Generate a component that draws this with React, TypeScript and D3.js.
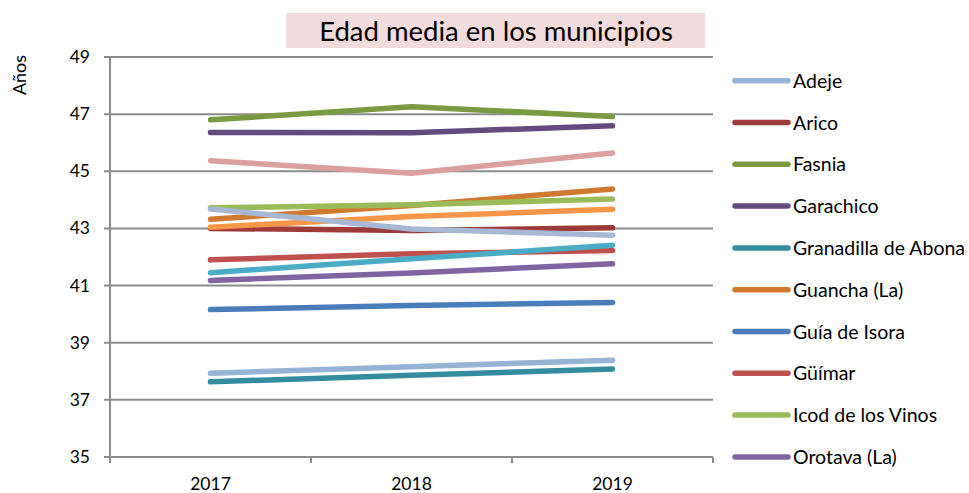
import React from "react";
import * as d3 from "d3";

const years = ["2017", "2018", "2019"];
const yTicks = [35, 37, 39, 41, 43, 45, 47, 49];

const names = [
  "Adeje", "Arico", "Fasnia", "Garachico", "Granadilla de Abona", "Guancha (La)",
  "Guía de Isora", "Güímar", "Icod de los Vinos", "Orotava (La)",
  "Puerto de la Cruz", "Realejos (Los)", "San Juan de la Rambla", "Santiago del Teide",
];
const colors = [
  "#95b3d7", "#9c3b3a", "#7a9a42", "#634b80", "#348c9e", "#d07a30",
  "#4a7ebb", "#c0504d", "#9bbb59", "#8064a2",
  "#4bacc6", "#f79646", "#d9a09e", "#a6b8d6",
];
const values = [
  [37.93, 38.16, 38.39],
  [43.0, 42.93, 43.02],
  [46.8, 47.26, 46.92],
  [46.36, 46.35, 46.59],
  [37.63, 37.86, 38.08],
  [43.32, 43.8, 44.38],
  [40.16, 40.3, 40.41],
  [41.9, 42.11, 42.23],
  [43.72, 43.83, 44.03],
  [41.18, 41.44, 41.76],
  [41.45, 41.94, 42.41],
  [43.04, 43.42, 43.67],
  [45.37, 44.93, 45.64],
  [43.68, 42.98, 42.76],
];
const legendCount = 10;

const font = "Lato, 'Open Sans', sans-serif";

export default function App() {
  const W = 969, H = 493;
  const left = 110, right = 713, top = 57, bottom = 457;
  const x = d3.scaleBand<string>().domain(years).range([left, right]);
  const y = d3.scaleLinear().domain([35, 49]).range([bottom, top]);
  const line = d3.line<number>()
    .x((_, i) => (x(years[i]) as number) + x.bandwidth() / 2)
    .y((v) => y(v));
  const axisColor = "#8c8c8c";
  const bounds = [...years.map((yr) => x(yr) as number), right];

  return (
    <svg width={W} height={H} style={{ position: "absolute", left: 0, top: 0, background: "#fff" }}>
      <rect x={286} y={13} width={419} height={35} fill="#f2dcdb" />
      <text x={496} y={40.5} textAnchor="middle" fontFamily={font} fontSize={27.5} fill="#000">
        Edad media en los municipios
      </text>
      <text transform={`translate(26,75) rotate(-90)`} textAnchor="middle" fontFamily={font} fontSize={18} fill="#000">
        Años
      </text>
      {yTicks.map((t) => (
        <g key={t}>
          <line x1={104} x2={right} y1={y(t)} y2={y(t)} stroke={axisColor} strokeWidth={2} />
          <text x={90} y={y(t) + 6} textAnchor="end" fontFamily={font} fontSize={17.5} fill="#000">{t}</text>
        </g>
      ))}
      <line x1={left} x2={left} y1={top} y2={bottom + 6} stroke={axisColor} strokeWidth={2} />
      {bounds.map((b, i) => (
        <line key={i} x1={b} x2={b} y1={bottom} y2={bottom + 6} stroke={axisColor} strokeWidth={2} />
      ))}
      {years.map((yr) => (
        <text key={yr} x={(x(yr) as number) + x.bandwidth() / 2} y={490} textAnchor="middle" fontFamily={font} fontSize={17.5} fill="#000">{yr}</text>
      ))}
      {values.map((vals, i) => (
        <path key={i} d={line(vals) || ""} fill="none" stroke={colors[i]} strokeWidth={5.5} strokeLinecap="round" strokeLinejoin="round" />
      ))}
      {names.slice(0, legendCount).map((n, i) => {
        const ly = 80.7 + i * 41.8;
        return (
          <g key={n}>
            <line x1={735} x2={788} y1={ly} y2={ly} stroke={colors[i]} strokeWidth={5.5} strokeLinecap="round" />
            <text x={793} y={ly + 7} fontFamily={font} fontSize={19.5} fill="#000">{n}</text>
          </g>
        );
      })}
    </svg>
  );
}
